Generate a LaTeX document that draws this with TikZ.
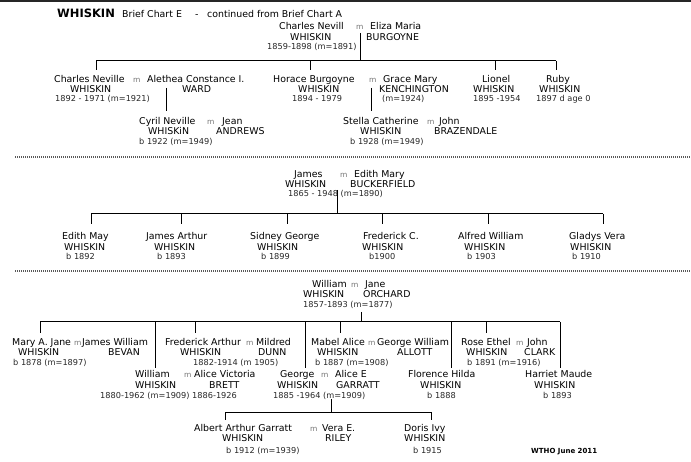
\documentclass[tikz,border=0pt]{standalone}
\usepackage{fontspec}
\setmainfont{DejaVu Sans}
\begin{document}
\begin{tikzpicture}[x=1pt,y=-1pt,
  nm/.style={anchor=base west, inner sep=0pt, font=\fontsize{9.4}{11}\selectfont},
  dt/.style={anchor=base west, inner sep=0pt, font=\fontsize{8.2}{9}\selectfont, text=black!85},
  mm/.style={anchor=base west, inner sep=0pt, font=\fontsize{7.5}{9}\selectfont, text=black!55},
  hd/.style={anchor=base west, inner sep=0pt, font=\fontsize{11.5}{13}\bfseries\selectfont},
  sig/.style={anchor=base west, inner sep=0pt, font=\fontsize{7}{8}\bfseries\selectfont},
  ln/.style={line width=1pt, black},
  dots/.style={line width=2pt, dash pattern=on 1pt off 1pt, black!65}]
\useasboundingbox (0,0) rectangle (691,462);
\fill[black!85] (0,0) rectangle (691,2);
% header
\node[hd] (h1) at (57,18) {WHISKIN};
\node[nm] (h2) at (122,18) {Brief Chart E};
\node[nm] (h3) at (195,18) {-};
\node[nm] (h4) at (207,18) {continued from Brief Chart A};
% ===== section 1 =====
\node[nm] (p1a) at (279,29.5) {Charles Nevill};
\node[mm] (p1m) at (356,29.5) {m};
\node[nm] (p1b) at (370,29.5) {Eliza Maria};
\node[nm] (p1c) at (290,40.5) {WHISKIN};
\node[nm] (p1d) at (366,40.5) {BURGOYNE};
\node[dt] (p1e) at (267,50) {1859-1898 (m=1891)};
\coordinate (s1top) at (360,33);
\coordinate (s1bar) at (360,61);
\coordinate (s1l) at (96,61);
\coordinate (s1r) at (556,61);
\coordinate (k1) at (96,70);
\coordinate (k2) at (310,70);
\coordinate (k3) at (495,70);
\coordinate (k4) at (556,70);
\draw[ln] (s1top) -- (s1bar);
\draw[ln] (s1l) -- (s1r);
\draw[ln] (s1l) -- (k1);
\draw[ln] (k2 |- s1bar) -- (k2);
\draw[ln] (k3 |- s1bar) -- (k3);
\draw[ln] (s1r) -- (k4);
% Charles Neville
\node[nm] (c1a) at (54,82.5) {Charles Neville};
\node[mm] (c1m) at (133,82.5) {m};
\node[nm] (c1b) at (147,82.5) {Alethea Constance I.};
\node[nm] (c1c) at (70,92.5) {WHISKIN};
\node[nm] (c1d) at (182,92.5) {WARD};
\node[dt] (c1e) at (55,102) {1892 - 1971 (m=1921)};
\coordinate (c1t) at (166,88);
\coordinate (c1u) at (166,111);
\draw[ln] (c1t) -- (c1u);
% Cyril
\node[nm] (g1a) at (139,124.5) {Cyril Neville};
\node[mm] (g1m) at (207,124.5) {m};
\node[nm] (g1b) at (222,124.5) {Jean};
\node[nm] (g1c) at (148,134.5) {WHISKiN};
\node[nm] (g1d) at (216,134.5) {ANDREWS};
\node[dt] (g1e) at (139,145) {b 1922 (m=1949)};
% Horace
\node[nm] (c2a) at (273,82.5) {Horace Burgoyne};
\node[mm] (c2m) at (369,82.5) {m};
\node[nm] (c2b) at (383,82.5) {Grace Mary};
\node[nm] (c2c) at (298,92.5) {WHISKIN};
\node[nm] (c2d) at (379,92.5) {KENCHINGTON};
\node[dt] (c2e) at (292,102) {1894 - 1979};
\node[dt] (c2f) at (382,102) {(m=1924)};
\coordinate (c2t) at (371,88);
\coordinate (c2u) at (371,111);
\draw[ln] (c2t) -- (c2u);
% Stella
\node[nm] (g2a) at (343,124.5) {Stella Catherine};
\node[mm] (g2m) at (427,124.5) {m};
\node[nm] (g2b) at (439,124.5) {John};
\node[nm] (g2c) at (360,134.5) {WHISKIN};
\node[nm] (g2d) at (434,134.5) {BRAZENDALE};
\node[dt] (g2e) at (350,145) {b 1928 (m=1949)};
% Lionel, Ruby
\node[nm] (c3a) at (482,82.5) {Lionel};
\node[nm] (c3c) at (473,92.5) {WHISKIN};
\node[dt] (c3e) at (473,102) {1895 -1954};
\node[nm] (c4a) at (546,82.5) {Ruby};
\node[nm] (c4c) at (539,92.5) {WHISKIN};
\node[dt] (c4e) at (536,102) {1897 d age 0};
% separator 1
\coordinate (d1l) at (15,157);
\coordinate (d1r) at (691,157);
\draw[dots] (d1l) -- (d1r);
% ===== section 2 =====
\node[nm] (q1a) at (294,177.5) {James};
\node[mm] (q1m) at (340,177.5) {m};
\node[nm] (q1b) at (354,177.5) {Edith Mary};
\node[nm] (q1c) at (285,187.5) {WHISKIN};
\node[nm] (q1d) at (350,187.5) {BUCKERFIELD};
\node[dt] (q1e) at (288,197) {1865 - 1948 (m=1890)};
\coordinate (s2top) at (337,190);
\coordinate (s2bar) at (337,214);
\coordinate (s2l) at (91,214);
\coordinate (s2r) at (603,214);
\draw[ln] (s2top) -- (s2bar);
\draw[ln] (s2l) -- (s2r);
\foreach \xx/\nn in {91/t1,181/t2,287/t3,382/t4,488/t5,603/t6}{
  \coordinate (\nn) at (\xx,224);
  \draw[ln] (\nn |- s2bar) -- (\nn);
}
\node[nm] (e1a) at (62,239.5) {Edith May};
\node[nm] (e1c) at (64,250.5) {WHISKIN};
\node[dt] (e1e) at (66,260) {b 1892};
\node[nm] (e2a) at (146,239.5) {James Arthur};
\node[nm] (e2c) at (154,250.5) {WHISKIN};
\node[dt] (e2e) at (157,260) {b 1893};
\node[nm] (e3a) at (250,239.5) {Sidney George};
\node[nm] (e3c) at (257,250.5) {WHISKIN};
\node[dt] (e3e) at (261,260) {b 1899};
\node[nm] (e4a) at (363,239.5) {Frederick C.};
\node[nm] (e4c) at (362,250.5) {WHISKIN};
\node[dt] (e4e) at (369,260) {b1900};
\node[nm] (e5a) at (458,239.5) {Alfred William};
\node[nm] (e5c) at (464,250.5) {WHISKIN};
\node[dt] (e5e) at (467,260) {b 1903};
\node[nm] (e6a) at (569,239.5) {Gladys Vera};
\node[nm] (e6c) at (570,250.5) {WHISKIN};
\node[dt] (e6e) at (572,260) {b 1910};
% separator 2
\coordinate (d2l) at (15,271);
\coordinate (d2r) at (691,271);
\draw[dots] (d2l) -- (d2r);
% ===== section 3 =====
\node[nm] (w1a) at (312,287.5) {William};
\node[mm] (w1m) at (351,287.5) {m};
\node[nm] (w1b) at (365,287.5) {Jane};
\node[nm] (w1c) at (303,297.5) {WHISKIN};
\node[nm] (w1d) at (363,297.5) {ORCHARD};
\node[dt] (w1e) at (303,308) {1857-1893 (m=1877)};
\coordinate (s3top) at (361,312);
\coordinate (s3bar) at (361,322);
\coordinate (s3l) at (40,322);
\coordinate (s3r) at (560,322);
\draw[ln] (s3top) -- (s3bar);
\draw[ln] (s3l) -- (s3r);
\foreach \xx/\nn in {40/u1,195/u2,340/u3,486/u4}{
  \coordinate (\nn) at (\xx,333);
  \draw[ln] (\nn |- s3bar) -- (\nn);
}
\foreach \xx/\nn in {155/v1,305/v2,451/v3,560/v4}{
  \coordinate (\nn) at (\xx,368);
  \draw[ln] (\nn |- s3bar) -- (\nn);
}
% Row A
\node[nm] (r1a) at (12,345.5) {Mary A. Jane};
\node[mm] (r1m) at (74,345.5) {m};
\node[nm] (r1b) at (82,345.5) {James William};
\node[nm] (r1c) at (18,355.5) {WHISKIN};
\node[nm] (r1d) at (108,355.5) {BEVAN};
\node[dt] (r1e) at (13,366) {b 1878 (m=1897)};
\node[nm] (r2a) at (165,345.5) {Frederick Arthur};
\node[mm] (r2m) at (246,345.5) {m};
\node[nm] (r2b) at (256,345.5) {Mildred};
\node[nm] (r2c) at (180,355.5) {WHISKIN};
\node[nm] (r2d) at (258,355.5) {DUNN};
\node[dt] (r2e) at (193,366) {1882-1914 (m 1905)};
\node[nm] (r3a) at (311,345.5) {Mabel Alice};
\node[mm] (r3m) at (368,345.5) {m};
\node[nm] (r3b) at (377,345.5) {George William};
\node[nm] (r3c) at (317,355.5) {WHISKIN};
\node[nm] (r3d) at (397,355.5) {ALLOTT};
\node[dt] (r3e) at (315,366) {b 1887 (m=1908)};
\node[nm] (r4a) at (461,345.5) {Rose Ethel};
\node[mm] (r4m) at (516,345.5) {m};
\node[nm] (r4b) at (527,345.5) {John};
\node[nm] (r4c) at (466,355.5) {WHISKIN};
\node[nm] (r4d) at (524,355.5) {CLARK};
\node[dt] (r4e) at (467,366) {b 1891 (m=1916)};
% Row B
\node[nm] (b1a) at (135,377.5) {William};
\node[mm] (b1m) at (184,377.5) {m};
\node[nm] (b1b) at (194,377.5) {Alice Victoria};
\node[nm] (b1c) at (135,388.5) {WHISKIN};
\node[nm] (b1d) at (209,388.5) {BRETT};
\node[dt] (b1e) at (100,398) {1880-1962 (m=1909) 1886-1926};
\node[nm] (b2a) at (280,377.5) {George};
\node[mm] (b2m) at (321,377.5) {m};
\node[nm] (b2b) at (335,377.5) {Alice E};
\node[nm] (b2c) at (277,388.5) {WHISKIN};
\node[nm] (b2d) at (336,388.5) {GARRATT};
\node[dt] (b2e) at (273,398) {1885 -1964 (m=1909)};
\node[nm] (b3a) at (408,377.5) {Florence Hilda};
\node[nm] (b3c) at (420,388.5) {WHISKIN};
\node[dt] (b3e) at (427,398) {b 1888};
\node[nm] (b4a) at (525,377.5) {Harriet Maude};
\node[nm] (b4c) at (534,388.5) {WHISKIN};
\node[dt] (b4e) at (543,398) {b 1893};
% George family
\coordinate (s4top) at (331,399);
\coordinate (s4bar) at (331,412);
\coordinate (s4l) at (225,412);
\coordinate (s4r) at (431,412);
\coordinate (x1) at (225,420);
\coordinate (x2) at (431,420);
\draw[ln] (s4top) -- (s4bar);
\draw[ln] (s4l) -- (s4r);
\draw[ln] (s4l) -- (x1);
\draw[ln] (s4r) -- (x2);
% Row C
\node[nm] (a1a) at (194,431.5) {Albert Arthur Garratt};
\node[mm] (a1m) at (310,431.5) {m};
\node[nm] (a1b) at (322,431.5) {Vera E.};
\node[nm] (a1c) at (222,441.5) {WHISKIN};
\node[nm] (a1d) at (325,441.5) {RILEY};
\node[dt] (a1e) at (226,453) {b 1912 (m=1939)};
\node[nm] (a2a) at (404,431.5) {Doris Ivy};
\node[nm] (a2c) at (404,441.5) {WHISKIN};
\node[dt] (a2e) at (413,453) {b 1915};
\node[sig] (sg) at (531,453) {WTHO June 2011};
\end{tikzpicture}
\end{document}
